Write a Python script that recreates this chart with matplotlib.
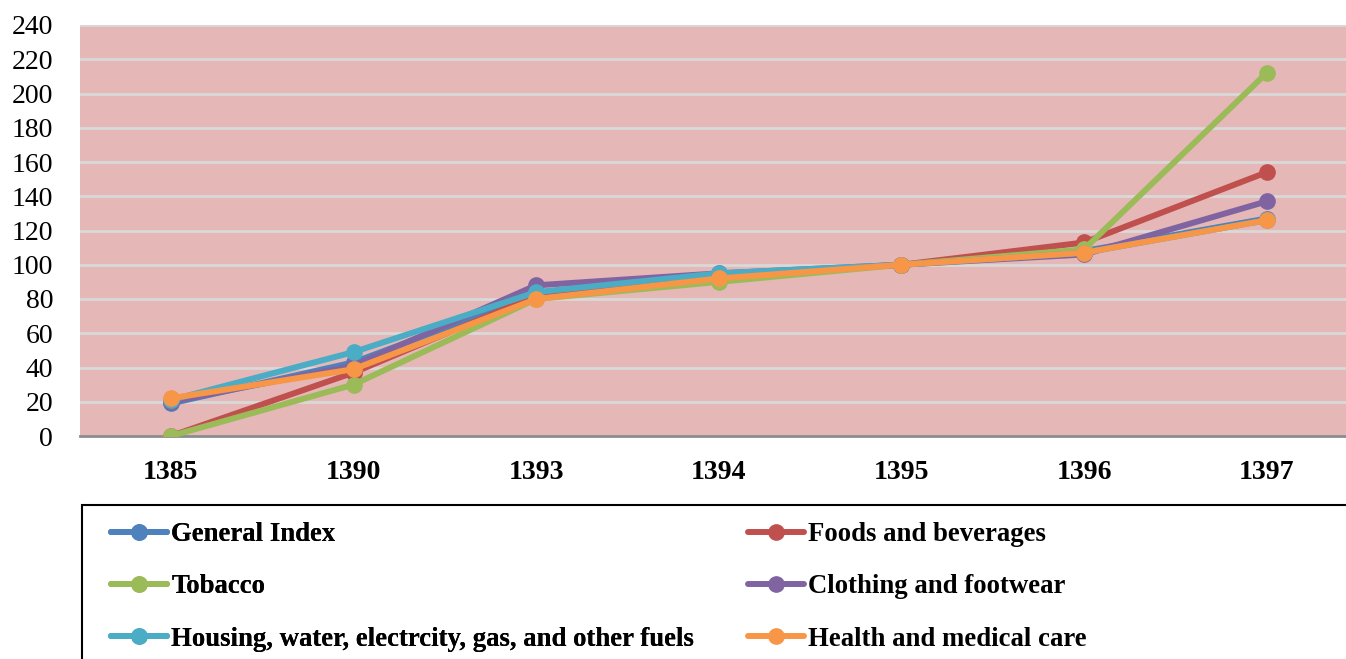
import matplotlib
matplotlib.use("Agg")
import matplotlib.pyplot as plt
from matplotlib.patches import Rectangle

years = ["1385", "1390", "1393", "1394", "1395", "1396", "1397"]
general_index = [19, 43, 83, 94, 100, 108, 127]
foods_beverages = [0, 37, 82, 93, 100, 113, 154]
tobacco = [0, 30, 80, 90, 100, 109, 212]
clothing_footwear = [20, 41, 88, 95, 100, 106, 137]
housing_fuels = [21, 49, 84, 95, 100, 107, 126]
health_medical = [22, 39, 80, 92, 100, 107, 126]

series_names = ["General Index", "Foods and beverages", "Tobacco",
                "Clothing and footwear",
                "Housing, water, electrcity, gas, and other fuels",
                "Health and medical care"]
series_values = [general_index, foods_beverages, tobacco, clothing_footwear,
                 housing_fuels, health_medical]
colors = ["#4F81BD", "#C0504D", "#9BBB59", "#8064A2", "#4BACC6", "#F79646"]
y_ticks = list(range(0, 241, 20))

W, H = 1346, 659
fig = plt.figure(figsize=(W / 100, H / 100), dpi=100)
serif = ["Liberation Serif", "DejaVu Serif"]

left_px, right_px, top_px, bottom_px = 79.6, 1358, 25, 436
ax = fig.add_axes([left_px / W, 1 - bottom_px / H, (right_px - left_px) / W,
                   (bottom_px - top_px) / H])
ax.set_facecolor("#E5B8B7")

x = list(range(len(years)))
lines = []
for name, vals, c in zip(series_names, series_values, colors):
    ln, = ax.plot(x, vals, color=c, lw=4.3, marker="o", markersize=11,
                  label=name, solid_capstyle="round", zorder=3)
    lines.append(ln)

ax.set_xlim(-0.5, len(years) - 0.5)
ax.set_ylim(0, 240)
ax.set_yticks(y_ticks)
ax.set_yticklabels([str(v) for v in y_ticks], fontfamily=serif, fontsize=20)
ax.set_xticks(x)
ax.set_xticklabels(years, fontfamily=serif, fontsize=20, fontweight="bold")
ax.tick_params(axis="y", length=0, pad=19)
ax.tick_params(axis="x", length=0, pad=17)
ax.grid(axis="y", color="#D9D9D9", lw=2, zorder=1)
ax.set_axisbelow(True)
for s in ["top", "right", "left"]:
    ax.spines[s].set_visible(False)
ax.spines["bottom"].set_color("#8C8C8C")
ax.spines["bottom"].set_linewidth(2)
ax.spines["bottom"].set_zorder(2)

# legend frame
fig.patches.append(Rectangle((82 / W, -0.02), 1.05, (659 - 505) / H + 0.02,
                             transform=fig.transFigure, fill=False,
                             edgecolor="black", lw=1.5))

font = {"family": serif, "weight": "bold", "size": 19.3}
common = dict(loc="upper left", frameon=False, prop=font, handlelength=2.1,
              handletextpad=0.15, labelspacing=1.02, borderpad=0,
              borderaxespad=0)
leg1 = fig.legend([lines[0], lines[2], lines[4]],
                  [series_names[0], series_names[2], series_names[4]],
                  bbox_to_anchor=(111 / W, 1 - 522 / H), **common)
leg2 = fig.legend([lines[1], lines[3], lines[5]],
                  [series_names[1], series_names[3], series_names[5]],
                  bbox_to_anchor=(748 / W, 1 - 522 / H), **common)
fig.add_artist(leg1)

fig.savefig("out.png", dpi=100)
